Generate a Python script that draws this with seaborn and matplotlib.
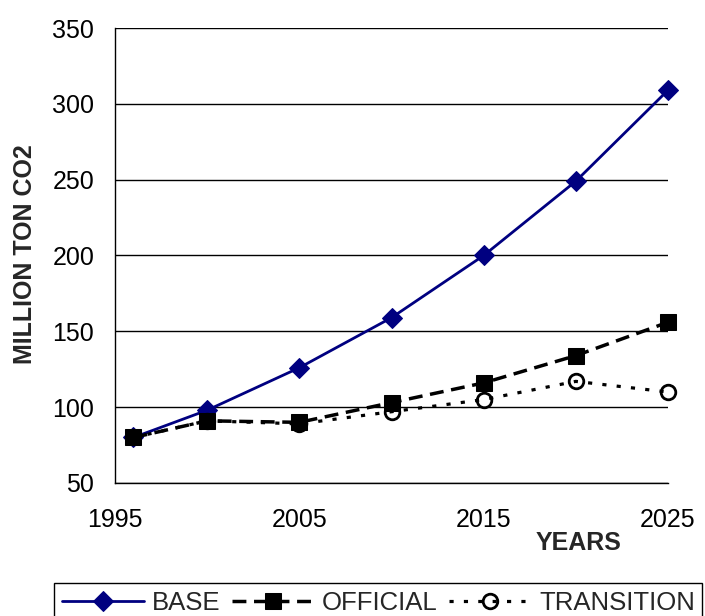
import matplotlib
matplotlib.use("Agg")
import matplotlib.pyplot as plt
import seaborn as sns

years = [1996, 2000, 2005, 2010, 2015, 2020, 2025]
base = [80, 98, 126, 159, 200, 249, 309]
official = [80, 91, 90, 103, 116, 134, 156]
transition = [80, 91, 89, 97, 105, 117, 110]

x_ticks = [1995, 2005, 2015, 2025]
y_ticks = [50, 100, 150, 200, 250, 300, 350]

sns.set_style("white")
plt.rcParams["font.family"] = ["Liberation Sans", "DejaVu Sans"]

fig = plt.figure(figsize=(7.05, 6.16), dpi=100)
ax = fig.add_axes([115 / 705, 1 - 483 / 616, (668 - 115) / 705, (483 - 28) / 616])

sns.lineplot(x=years, y=base, ax=ax, color="#000080", lw=2, marker="D",
             markersize=10, markerfacecolor="#000080", markeredgecolor="#000080",
             label="BASE", zorder=3, clip_on=False)
sns.lineplot(x=years, y=transition, ax=ax, color="black", lw=2.3,
             linestyle=(0, (1.3, 3.2)), marker="o", markersize=10.5,
             markerfacecolor="none", markeredgecolor="black", markeredgewidth=2,
             label="TRANSITION", zorder=4, clip_on=False)
sns.lineplot(x=years, y=official, ax=ax, color="black", lw=2.5,
             linestyle=(0, (4, 2.2)), marker="s", markersize=11,
             markerfacecolor="black", markeredgecolor="black",
             label="OFFICIAL", zorder=5, clip_on=False)

ax.set_xlim(1995, 2025)
ax.set_ylim(50, 350)
ax.set_xticks(x_ticks)
ax.set_yticks(y_ticks)
ax.tick_params(axis="both", labelsize=18, direction="out", length=6, width=1,
               color="black", labelcolor="black")
ax.tick_params(axis="x", pad=12)
ax.tick_params(axis="y", pad=9)
ax.yaxis.grid(True, color="black", lw=1)
ax.xaxis.grid(False)
for side in ("top", "right"):
    ax.spines[side].set_visible(False)
for side in ("left", "bottom"):
    ax.spines[side].set_color("black")
    ax.spines[side].set_linewidth(1)

ax.set_xlabel("")
ax.set_ylabel("")
fig.text(579 / 705, 1 - 543 / 616, "YEARS", ha="center", va="center",
         fontsize=18, fontweight="bold")
fig.text(25 / 705, 1 - 254 / 616, "MILLION TON CO2", ha="center", va="center",
         rotation=90, fontsize=18, fontweight="bold")

handles, labels = ax.get_legend_handles_labels()
order = [labels.index(n) for n in ("BASE", "OFFICIAL", "TRANSITION")]
ax.legend([handles[i] for i in order], [labels[i] for i in order],
          loc="upper left", bbox_to_anchor=(54 / 705, 1 - 583 / 616),
          bbox_transform=fig.transFigure, ncol=3, fontsize=18.5, frameon=True,
          fancybox=False, edgecolor="black", framealpha=1, handlelength=3.2,
          handletextpad=0.3, columnspacing=0.45, borderpad=0.3, borderaxespad=0)
ax.get_legend().get_frame().set_linewidth(1)

fig.savefig("out.png", dpi=100)
